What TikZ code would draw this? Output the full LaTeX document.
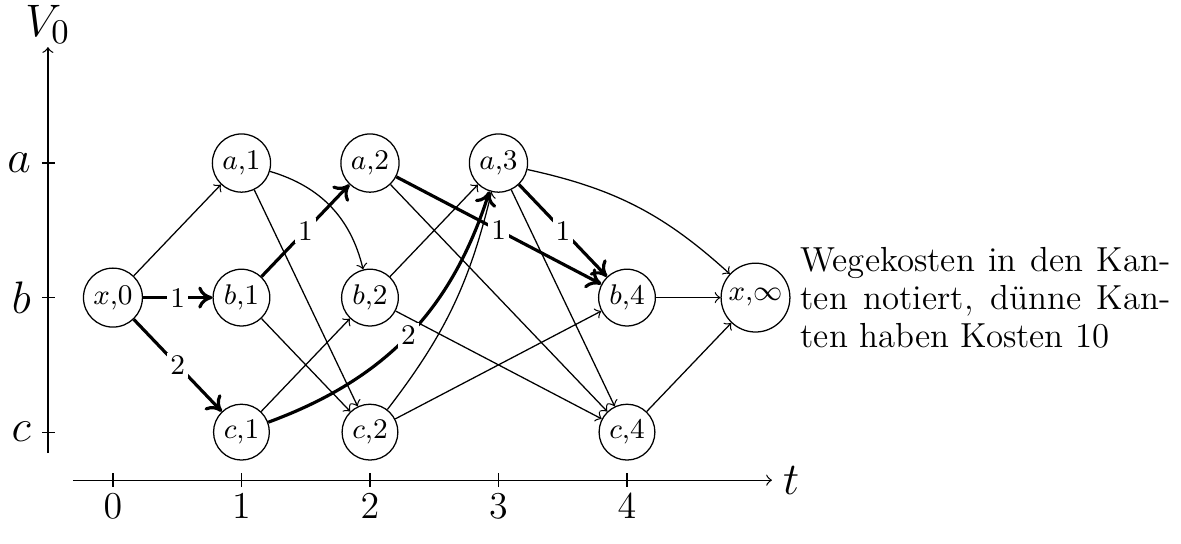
\documentclass[tikz,border=0pt]{standalone}
\usetikzlibrary{positioning,arrows.meta}
\begin{document}
\begin{tikzpicture}[x=1.428cm,y=1.495cm,>=to,
  state/.style={draw, circle, minimum size=17pt, inner sep=1.5pt, font=\small},
  heavy/.style={-{To[length=4.5pt,width=7pt]}, line width=1pt},
  cost/.style={fill=white, inner sep=1pt, font=\small},
  axlabel/.style={font=\fontsize{15}{17}\selectfont}]
\useasboundingbox (-0.879,-0.825) rectangle (8.311,3.212);
% axes
\coordinate (vlow) at (-0.506,-0.156);
\coordinate (vtop) at (-0.506,2.862);
\coordinate (tlow) at (-0.311,-0.357);
\coordinate (ttop) at (5.128,-0.357);
\draw[->] (vlow) -- (vtop) node[above, inner sep=1pt, axlabel] {$V_0$};
\draw[->] (tlow) -- (ttop) node[right, axlabel] {$t$};
\foreach \y/\v in {2/a,1/b,0/c}
  \draw (-0.553,\y) -- (-0.451,\y) node[pos=0, left, axlabel] {$\v$};
\foreach \t in {0,...,4}
  \draw (\t,-0.305) -- (\t,-0.409) node[below=2pt, inner sep=0pt, font=\fontsize{12}{14}\selectfont] {$\t$};
% states
\node[state] (x0) at (0,1) {$x{,}0$};
\node[state] (a1) at (1,2) {$a{,}1$};
\node[state] (b1) at (1,1) {$b{,}1$};
\node[state] (c1) at (1,0) {$c{,}1$};
\node[state] (a2) at (2,2) {$a{,}2$};
\node[state] (b2) at (2,1) {$b{,}2$};
\node[state] (c2) at (2,0) {$c{,}2$};
\node[state] (a3) at (3,2) {$a{,}3$};
\node[state] (b4) at (4,1) {$b{,}4$};
\node[state] (c4) at (4,0) {$c{,}4$};
\node[state] (xinf) at (5,1) {$x{,}\infty$};
\node[right=3pt of xinf, inner sep=0pt, align=left, font=\fontsize{11}{12}\selectfont] (note)
  {\makebox[117pt][s]{Wegekosten in den Kan-}\\
   \makebox[117pt][s]{ten notiert, dünne Kan-}\\
   ten haben Kosten 10};
% thin edges (cost 10)
\draw[->] (x0) -- (a1);
\draw[->] (a1) to[bend left=30] (b2);
\draw[->] (a1) -- (c2);
\draw[->] (b1) -- (c2);
\draw[->] (c1) -- (b2);
\draw[->] (a2) -- (c4);
\draw[->] (b2) -- (a3);
\draw[->] (b2) -- (c4);
\draw[->] (c2) to[bend right=12] (a3);
\draw[->] (c2) -- (b4);
\draw[->] (a3) -- (c4);
\draw[->] (a3) to[bend left=15] (xinf);
\draw[->] (b4) -- (xinf);
\draw[->] (c4) -- (xinf);
% heavy edges
\draw[heavy] (x0) -- node[cost] {1} (b1);
\draw[heavy] (x0) -- node[cost] {2} (c1);
\draw[heavy] (b1) -- node[cost] {1} (a2);
\draw[heavy] (c1) to[bend right=26] node[cost] {2} (a3);
\draw[heavy] (a2) -- node[cost] {1} (b4);
\draw[heavy] (a3) -- node[cost] {1} (b4);
\end{tikzpicture}
\end{document}
